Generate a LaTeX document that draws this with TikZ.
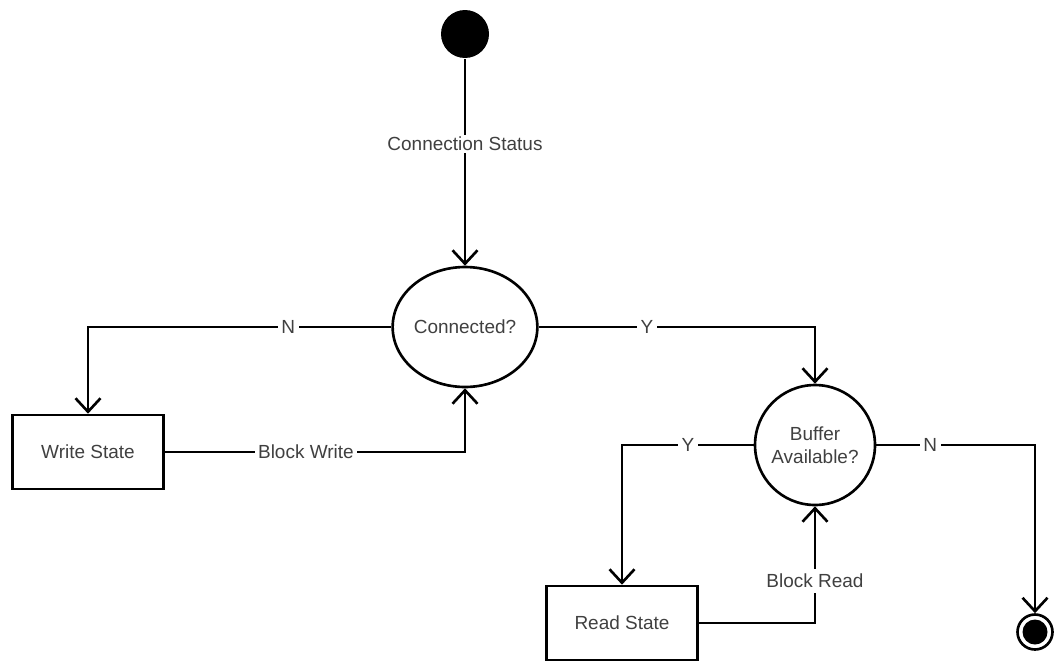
\documentclass[tikz,border=0pt]{standalone}
\usepackage{fontspec}
\setmainfont{Liberation Sans}
\usetikzlibrary{arrows.meta,shapes.geometric}

\begin{document}
\begin{tikzpicture}[x=0.02cm,y=-0.02cm,>={Straight Barb[length=0.27cm,width=0.5cm]},
    font=\fontsize{10.8}{13}\selectfont, line width=1.5pt]
    \tikzstyle{statebox}=[draw, text=black!75, minimum width=3.02cm, minimum height=1.48cm]
    \tikzstyle{decision}=[draw, text=black!75, align=center, inner sep=0pt]
    \tikzstyle{flow}=[->]
    \tikzstyle{lbl}=[fill=white, text=black!75, inner xsep=2pt, inner ysep=1pt]

    \useasboundingbox (0,0) rectangle (1054,660);

    % Start and end
    \node[circle, fill=black, minimum size=0.96cm, inner sep=0pt] (start) at (465,34) {};
    \node[circle, draw, minimum size=0.7cm, inner sep=0pt,
        path picture={\fill (path picture bounding box.center) circle (0.25cm);}] (stop) at (1035,632) {};

    % Decisions
    \node[decision, ellipse, minimum width=2.6cm, minimum height=2.4cm] (connected) at (465,327) {Connected?};
    \node[decision, circle, minimum size=2.4cm] (buffer) at (815,445) {Buffer\\Available?};

    % States
    \node[statebox] (write) at (88,452) {Write State};
    \node[statebox] (read) at (622,623) {Read State};

    % Flow
    \draw[flow] (start) -- node[lbl, pos=0.41] {Connection Status} (connected);
    \draw[flow] (connected.west) -| node[lbl, pos=0.17] {N} (write);
    \draw[flow] (write.east) -| node[lbl, pos=0.235] {Block Write} (connected);
    \draw[flow] (connected.east) -| node[lbl, pos=0.196] {Y} (buffer);
    \draw[flow] (buffer.west) -| node[lbl, pos=0.25] {Y} (read);
    \draw[flow] (read.east) -| node[lbl, pos=0.68, inner ysep=3pt] {Block Read} (buffer);
    \draw[flow] (buffer.east) -| node[lbl, pos=0.17] {N} (stop);
\end{tikzpicture}
\end{document}
